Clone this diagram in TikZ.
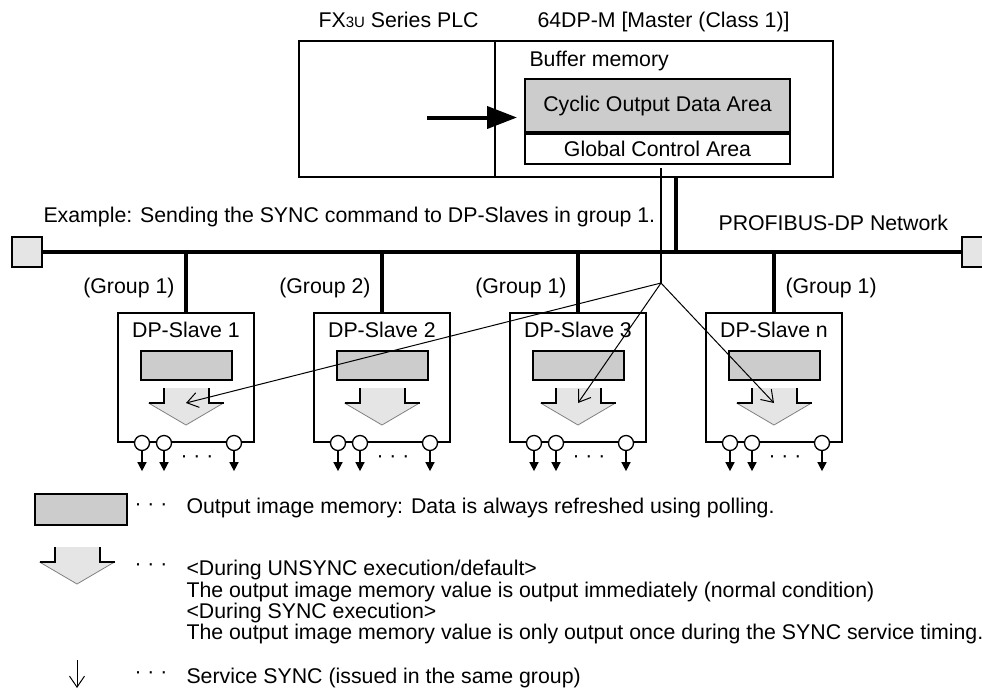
\documentclass[tikz,border=0pt]{standalone}
\usepackage{fontspec}
\setmainfont{Liberation Sans}
\usetikzlibrary{arrows.meta,positioning}

\definecolor{memgray}{gray}{0.8}
\definecolor{arrowgray}{gray}{0.9}

\tikzset{
  box/.style={draw, line width=2pt, rectangle, inner sep=0pt},
  memory/.style={box, fill=memgray, minimum width=91pt, minimum height=29pt},
  slave/.style={box, minimum width=136pt, minimum height=129pt},
  bus/.style={line width=4.5pt},
  signal/.style={line width=1pt, -{Straight Barb[length=11pt,width=15pt]}},
  port/.style={draw, line width=1.3pt, circle, inner sep=0pt, minimum size=15pt, fill=white},
  outline/.style={line width=1.5pt, -{Triangle[length=9pt,width=9pt]}},
  dots/.style={font=\fontsize{21}{21}\selectfont, inner sep=0pt},
}

% block arrow of a DP-Slave output: centre x, top y
\newcommand{\outarrow}[2]{%
  \fill[arrowgray] ({#1-22.5},#2) -- ({#1+22.5},#2) -- ({#1+22.5},{#2+15})
    -- ({#1+37.5},{#2+15}) -- (#1,{#2+37}) -- ({#1-37.5},{#2+15})
    -- ({#1-22.5},{#2+15}) -- cycle;
  \draw[gray, line width=0.8pt] ({#1+37.5},{#2+15}) -- (#1,{#2+37}) -- ({#1-37.5},{#2+15});
  \draw[line width=2pt] ({#1-22.5},#2) -- ({#1-22.5},{#2+15}) -- ({#1-37.5},{#2+15});
  \draw[line width=2pt] ({#1+22.5},#2) -- ({#1+22.5},{#2+15}) -- ({#1+37.5},{#2+15});
}

\begin{document}
\begin{tikzpicture}[x=1pt, y=-1pt, >=stealth, font=\fontsize{21.3}{25}\selectfont]
    \useasboundingbox (0,0) rectangle (982,689);

    % master station
    \node[anchor=base west] (plclabel) at (315,27) {FX{\fontsize{15}{15}\selectfont 3U} Series PLC};
    \node[anchor=base west] (masterlabel) at (534,27) {64DP-M [Master (Class 1)]};
    \node[box, anchor=north west, minimum width=534pt, minimum height=136pt] (master) at (298,40) {};
    \coordinate (divtop) at (495,40);
    \draw[line width=2pt] (divtop) -- (divtop |- master.south);
    \node[anchor=base west] (buflabel) at (526,66) {Buffer memory};
    \node[box, fill=memgray, anchor=north west, minimum width=265pt, minimum height=53pt]
        (cyc) at (524,78) {Cyclic Output Data Area};
    \node[box, anchor=north, minimum width=265pt, minimum height=30pt]
        (gca) at (cyc.south) {Global Control Area};
    \draw[line width=4pt, -{Triangle[length=30pt,width=22pt]}]
        ([xshift=-97pt, yshift=-12pt]cyc.west) -- ([xshift=-7pt, yshift=-12pt]cyc.west);

    % network
    \node[box, fill=arrowgray, minimum size=30pt] (termL) at (27,252) {};
    \node[box, fill=arrowgray, minimum size=30pt] (termR) at (977,252) {};
    \draw[bus] (termL) -- (termR);
    \coordinate (link) at (676,252);
    \draw[bus] (link |- master.south) -- (link);
    \node[anchor=base west] (example) at (40,222)
        {Example: Sending the SYNC command to DP-Slaves in group 1.};
    \node[anchor=base west] (netlabel) at (715,230) {PROFIBUS-DP Network};

    % slaves
    \foreach \i/\x/\g/\name/\side/\dx in {1/186/1/1/east/-8, 2/382/2/2/east/-8,
                                         3/578/1/3/east/-8, 4/774/1/n/west/8} {
        \node[slave, anchor=north] (s\i) at (\x,312) {};
        \draw[bus] (s\i.north) -- (s\i.north |- termL);
        \node[anchor=base \side] (g\i) at ({\x+\dx},293) {(Group \g)};
        \node[anchor=base] (n\i) at ([yshift=-25pt]s\i.north) {DP-Slave \name};
        \node[memory, anchor=north] (m\i) at ([yshift=-38pt]s\i.north) {};
        \outarrow{\x}{388}
        \coordinate (t\i) at (\x,403);
        \foreach \px in {25,47,117} {
            \node[port] (p\i\px) at ([xshift=\px pt]s\i.south west) {};
            \draw[outline] (p\i\px.south) -- ++(0,20);
        }
        \node[dots] (d\i) at ({\x+11},459) {· · ·};
    }

    % SYNC command
    \coordinate (tap) at (661,168);
    \coordinate (branch) at (661,283);
    \draw[line width=1.3pt] (tap) -- (branch);
    \draw[signal] (branch) -- (t1);
    \draw[signal] (branch) -- (t3);
    \draw[signal] (branch) -- (t4);

    % legend
    \node[memory, anchor=north west, minimum width=92pt, minimum height=31pt] (lmem) at (34,493) {};
    \node[dots] (ld1) at (151,507) {· · ·};
    \node[anchor=base west] (lt1) at (183,513)
        {Output image memory: Data is always refreshed using polling.};
    \outarrow{77}{547}
    \node[dots] (ld2) at (151,567) {· · ·};
    \node[anchor=base west] (lt2) at (183,575) {<During UNSYNC execution/default>};
    \node[anchor=base west] (lt3) at (183,597)
        {The output image memory value is output immediately (normal condition)};
    \node[anchor=base west] (lt4) at (183,618) {<During SYNC execution>};
    \node[anchor=base west] (lt5) at (183,639.5)
        {The output image memory value is only output once during the SYNC service timing.};
    \coordinate (svtop) at (77,660);
    \coordinate (svend) at (77,688);
    \draw[signal] (svtop) -- (svend);
    \node[dots] (ld3) at (151,675) {· · ·};
    \node[anchor=base west] (lt6) at (183,683) {Service SYNC (issued in the same group)};
\end{tikzpicture}
\end{document}
